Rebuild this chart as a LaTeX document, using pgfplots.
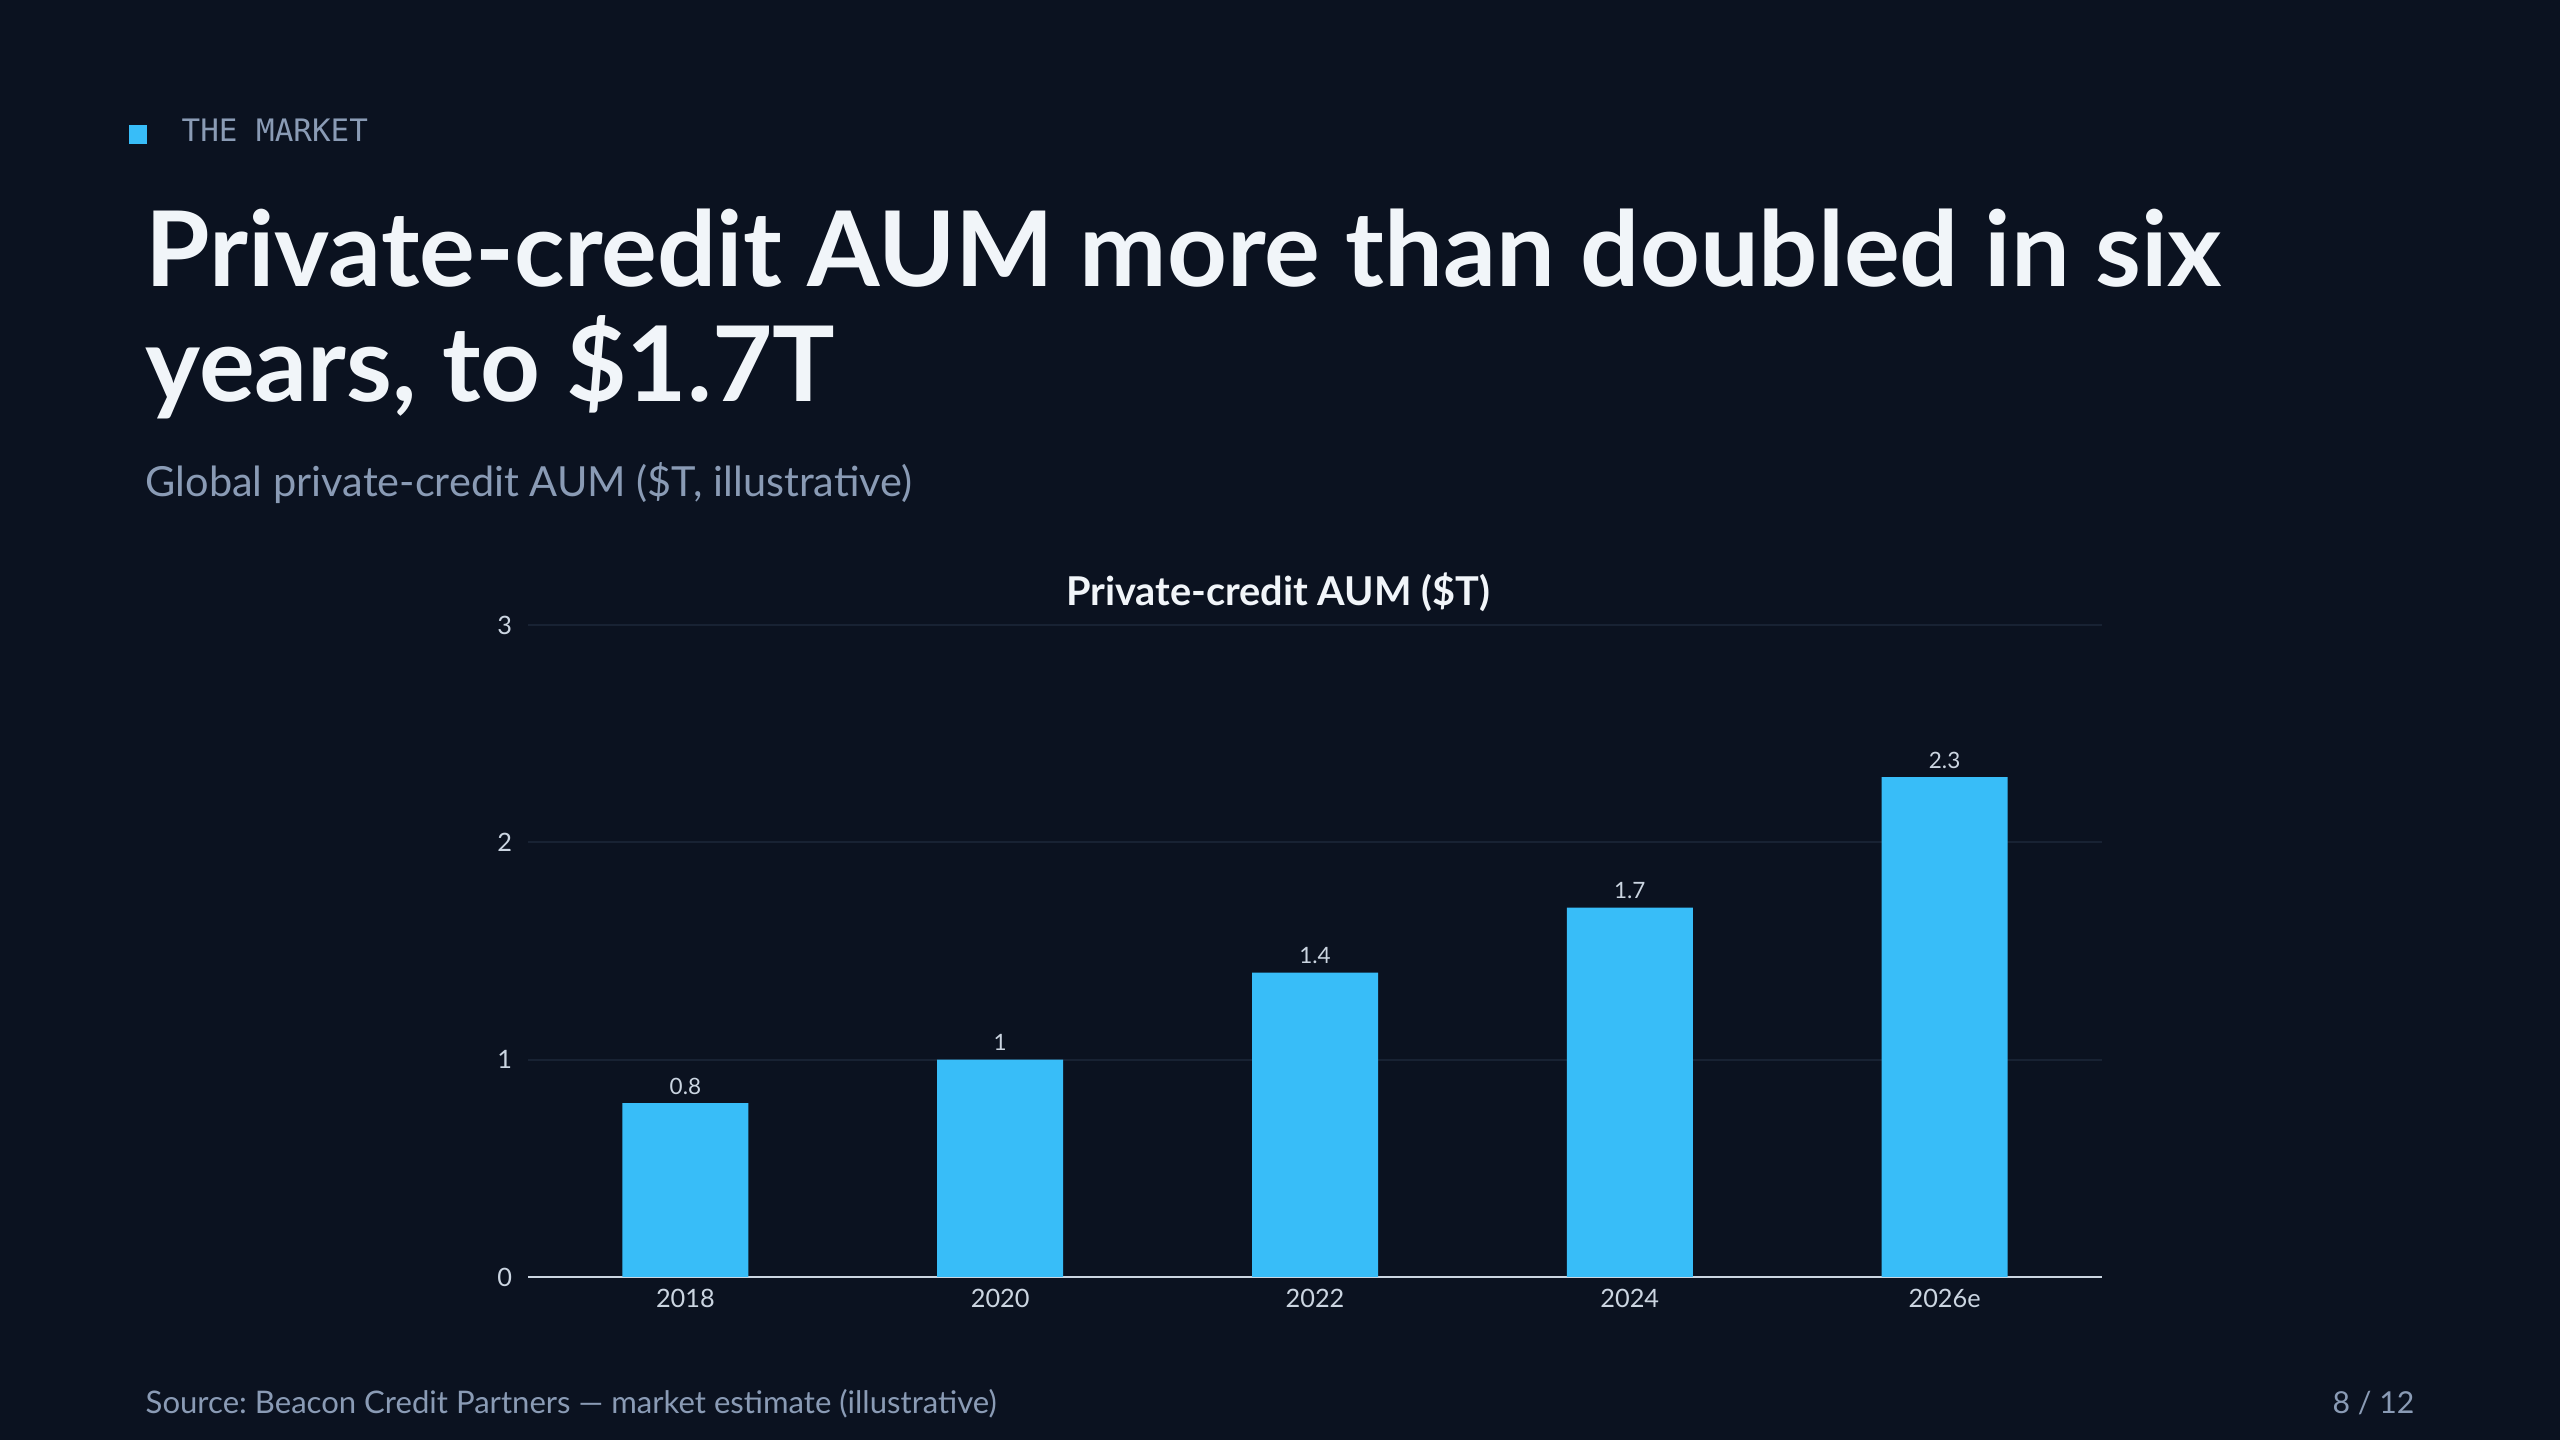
\documentclass[border=0pt]{standalone}
\usepackage{pgfplots}
\pgfplotsset{compat=1.18}
\usepackage{fontspec}
\setmainfont{Lato}
\newfontfamily\monofont{DejaVu Sans Mono}
\definecolor{bg}{HTML}{0B1220}
\definecolor{accent}{HTML}{38BDF8}
\definecolor{muted}{HTML}{8A9BB5}
\definecolor{titlec}{HTML}{F1F5F9}
\definecolor{tickc}{HTML}{CBD5E1}
\definecolor{gridc}{HTML}{182233}
\frenchspacing
\begin{document}
\begin{tikzpicture}
\useasboundingbox (0,0) rectangle (25.6,14.4);
\fill[bg] (0,0) rectangle (25.6,14.4);
% kicker
\fill[accent] (1.29,14.4-1.44) rectangle (1.47,14.4-1.25);
\node[anchor=base west, inner sep=0, text=muted] at (1.81,14.4-1.42) {\monofont\fontsize{8.8}{10}\selectfont THE MARKET};
% title
\node[anchor=base west, inner sep=0, text=titlec] at (1.45,14.4-2.87) {\fontsize{29.7}{31}\selectfont\bfseries Private-credit AUM more than doubled in six};
\node[anchor=base west, inner sep=0, text=titlec] at (1.45,14.4-4.02) {\fontsize{29.7}{31}\selectfont\bfseries years, to \$1.7T};
% subtitle
\node[anchor=base west, inner sep=0, text=muted] at (1.45,14.4-4.97) {\fontsize{11.8}{13}\selectfont Global private-credit AUM (\$T, illustrative)};
% chart title
\node[anchor=base, inner sep=0, text=titlec] at (12.78,14.4-6.06) {\fontsize{11.3}{13}\selectfont\bfseries Private-credit AUM (\$T)};
% footer
\node[anchor=base west, inner sep=0, text=muted] at (1.45,14.4-14.13) {\fontsize{8.85}{10}\selectfont Source: Beacon Credit Partners --- market estimate (illustrative)};
\node[anchor=base east, inner sep=0, text=muted] at (24.15,14.4-14.13) {\fontsize{8.6}{10}\selectfont 8 / 12};
\begin{axis}[
  at={(5.28cm,1.63cm)}, anchor=south west,
  scale only axis, width=15.74cm, height=6.52cm,
  xmin=-0.5, xmax=4.5, ymin=0, ymax=3,
  ytick={0,1,2,3},
  xtick=data, xticklabels={2018,2020,2022,2024,2026e},
  ybar, bar width=1.26cm,
  axis lines=left,
  y axis line style={draw=none},
  x axis line style={draw=tickc, line width=0.6pt, -},
  major tick length=0pt,
  ymajorgrids, grid style={draw=gridc, line width=0.5pt},
  tick label style={text=tickc, font=\fontsize{7.2}{8}\selectfont},
  /pgf/number format/assume math mode=true,
  yticklabel style={xshift=-1pt},
  xticklabel style={yshift=0pt},
  nodes near coords,
  every node near coord/.append style={text=tickc, font=\fontsize{6.4}{7}\selectfont, yshift=-1pt},
  clip=false,
]
\addplot[fill=accent, draw=none] coordinates {(0,0.8) (1,1) (2,1.4) (3,1.7) (4,2.3)};
\end{axis}
\end{tikzpicture}
\end{document}
